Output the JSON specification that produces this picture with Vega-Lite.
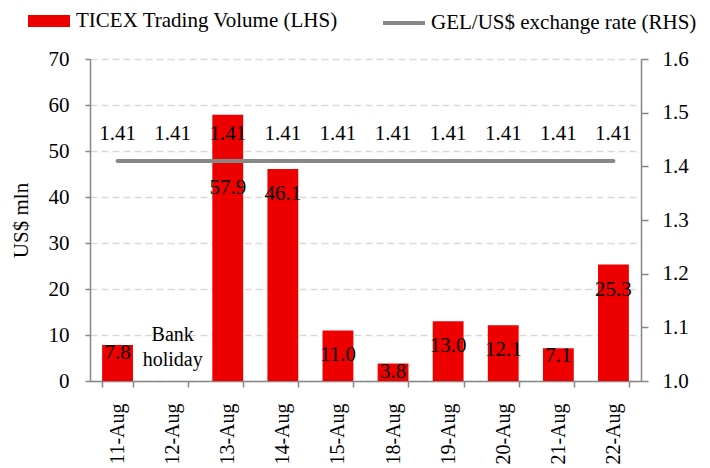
{
  "$schema": "https://vega.github.io/schema/vega-lite/v6.json",
  "width": 551,
  "height": 322,
  "autosize": {"type": "none"},
  "padding": {"left": 90, "top": 59, "right": 69, "bottom": 87},
  "background": "white",
  "config": {
    "font": "Liberation Serif",
    "view": {"stroke": null},
    "axis": {
      "labelFont": "Liberation Serif",
      "titleFont": "Liberation Serif",
      "labelColor": "black",
      "titleColor": "black",
      "domainColor": "#868686",
      "tickColor": "#868686",
      "domainWidth": 1.5,
      "tickWidth": 1.5
    },
    "legend": {
      "labelFont": "Liberation Serif",
      "labelFontSize": 21,
      "labelColor": "black",
      "labelLimit": 0,
      "padding": 0,
      "title": null
    }
  },
  "data": {
    "values": [
      {"date": "11-Aug", "volume": 7.8, "rate": 1.41, "note": ""},
      {"date": "12-Aug", "volume": null, "rate": 1.41, "note": "Bank\nholiday"},
      {"date": "13-Aug", "volume": 57.9, "rate": 1.41, "note": ""},
      {"date": "14-Aug", "volume": 46.1, "rate": 1.41, "note": ""},
      {"date": "15-Aug", "volume": 11.0, "rate": 1.41, "note": ""},
      {"date": "18-Aug", "volume": 3.8, "rate": 1.41, "note": ""},
      {"date": "19-Aug", "volume": 13.0, "rate": 1.41, "note": ""},
      {"date": "20-Aug", "volume": 12.1, "rate": 1.41, "note": ""},
      {"date": "21-Aug", "volume": 7.1, "rate": 1.41, "note": ""},
      {"date": "22-Aug", "volume": 25.3, "rate": 1.41, "note": ""}
    ]
  },
  "encoding": {
    "x": {
      "field": "date",
      "type": "ordinal",
      "sort": null,
      "scale": {
        "domain": ["11-Aug", "12-Aug", "13-Aug", "14-Aug", "15-Aug", "18-Aug", "19-Aug", "20-Aug", "21-Aug", "22-Aug"],
        "paddingInner": 0.44,
        "paddingOuter": 0.22
      },
      "axis": {
        "title": null,
        "labelAngle": -90,
        "labelAlign": "right",
        "labelBaseline": "middle",
        "labelFontSize": 20,
        "labelPadding": 16,
        "tickBand": "extent",
        "tickSize": 6,
        "grid": false
      }
    }
  },
  "layer": [
    {
      "layer": [
        {
          "mark": {"type": "bar"},
          "encoding": {
            "y": {
              "field": "volume",
              "type": "quantitative",
              "scale": {"domain": [0, 70], "nice": false},
              "axis": {
                "orient": "left",
                "values": [0, 10, 20, 30, 40, 50, 60, 70],
                "tickSize": 5,
                "labelPadding": 16,
                "labelFontSize": 21,
                "grid": true,
                "gridDash": [7, 4],
                "gridColor": "#d9d9d9",
                "gridWidth": 1.5,
                "title": "US$ mln",
                "titleFontSize": 21,
                "titleFontWeight": "normal",
                "titleAngle": -90,
                "titleX": -69,
                "titleY": 161,
                "titleAlign": "center",
                "titleBaseline": "middle"
              }
            },
            "color": {
              "datum": "TICEX Trading Volume (LHS)",
              "scale": {"range": ["#ee0000"]},
              "legend": {
                "orient": "none",
                "legendX": -62,
                "legendY": -59,
                "direction": "horizontal",
                "symbolType": "M-1,-0.29H1V0.29H-1Z",
                "symbolSize": 1764,
                "symbolStrokeWidth": 0,
                "symbolOpacity": 1,
                "labelOffset": 6
              }
            }
          }
        },
        {
          "transform": [{"filter": "datum.volume != null && datum.volume < 9"}],
          "mark": {"type": "text", "baseline": "middle", "dy": 8, "fontSize": 21, "color": "black"},
          "encoding": {
            "y": {"field": "volume", "type": "quantitative"},
            "text": {"field": "volume", "type": "quantitative", "format": ".1f"}
          }
        },
        {
          "transform": [{"filter": "datum.volume != null && datum.volume >= 9 && datum.volume < 50"}],
          "mark": {"type": "text", "baseline": "middle", "dy": 25, "fontSize": 21, "color": "black"},
          "encoding": {
            "y": {"field": "volume", "type": "quantitative"},
            "text": {"field": "volume", "type": "quantitative", "format": ".1f"}
          }
        },
        {
          "transform": [{"filter": "datum.volume != null && datum.volume >= 50"}],
          "mark": {"type": "text", "baseline": "middle", "dy": 73, "fontSize": 21, "color": "black"},
          "encoding": {
            "y": {"field": "volume", "type": "quantitative"},
            "text": {"field": "volume", "type": "quantitative", "format": ".1f"}
          }
        },
        {
          "transform": [{"filter": "datum.note != ''"}],
          "mark": {"type": "text", "baseline": "middle", "lineBreak": "\n", "lineHeight": 25, "fontSize": 20, "color": "black"},
          "encoding": {
            "y": {"datum": 9.9, "type": "quantitative"},
            "text": {"field": "note", "type": "nominal"}
          }
        }
      ]
    },
    {
      "encoding": {
        "y": {
          "field": "rate",
          "type": "quantitative",
          "scale": {"domain": [1.0, 1.6], "nice": false},
          "axis": {
            "orient": "right",
            "values": [1.0, 1.1, 1.2, 1.3, 1.4, 1.5, 1.6],
            "format": ".1f",
            "tickSize": 7,
            "labelPadding": 14,
            "labelFontSize": 21,
            "grid": false,
            "title": null
          }
        }
      },
      "layer": [
        {
          "mark": {"type": "line", "strokeWidth": 4, "strokeCap": "round"},
          "encoding": {
            "stroke": {
              "datum": "GEL/US$ exchange rate (RHS)",
              "scale": {"range": ["#878787"]},
              "legend": {
                "orient": "none",
                "legendX": 291,
                "legendY": -59,
                "direction": "horizontal",
                "symbolType": "stroke",
                "symbolSize": 1764,
                "symbolStrokeWidth": 4,
                "labelOffset": 4
              }
            }
          }
        },
        {
          "mark": {"type": "text", "baseline": "middle", "dy": -27, "fontSize": 21, "color": "black"},
          "encoding": {"text": {"field": "rate", "type": "quantitative", "format": ".2f"}}
        }
      ]
    }
  ],
  "resolve": {"scale": {"y": "independent"}}
}
